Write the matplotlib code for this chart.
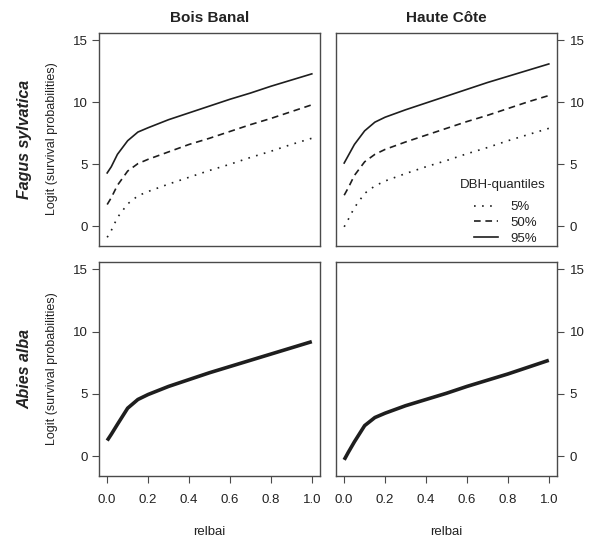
import matplotlib
matplotlib.use('Agg')
import matplotlib.pyplot as plt

plt.rcParams['font.family'] = ['Liberation Sans', 'DejaVu Sans']
plt.rcParams['lines.scale_dashes'] = False

# ---- data ----
sites = ['Bois Banal', 'Haute Côte']
species = ['Fagus sylvatica', 'Abies alba']
quantiles = ['5%', '50%', '95%']
legend_title = 'DBH-quantiles'
relbai = [0, 0.02, 0.05, 0.1, 0.15, 0.2, 0.3, 0.4, 0.5, 0.6, 0.7, 0.8, 0.9, 1.0]

fagus_bb_q05 = [-0.9, -0.35, 0.7, 1.8, 2.45, 2.8, 3.4, 3.95, 4.5, 5.0, 5.55, 6.05, 6.6, 7.1]
fagus_bb_q50 = [1.75, 2.3, 3.3, 4.45, 5.05, 5.4, 6.0, 6.6, 7.1, 7.65, 8.2, 8.7, 9.25, 9.8]
fagus_bb_q95 = [4.3, 4.8, 5.8, 6.9, 7.6, 7.95, 8.6, 9.15, 9.7, 10.25, 10.75, 11.3, 11.8, 12.3]

fagus_hc_q05 = [-0.05, 0.55, 1.5, 2.65, 3.25, 3.65, 4.25, 4.8, 5.3, 5.85, 6.35, 6.9, 7.4, 7.9]
fagus_hc_q50 = [2.5, 3.1, 4.1, 5.2, 5.8, 6.2, 6.8, 7.35, 7.9, 8.45, 8.95, 9.5, 10.05, 10.55]
fagus_hc_q95 = [5.1, 5.7, 6.6, 7.7, 8.4, 8.8, 9.4, 9.95, 10.5, 11.05, 11.6, 12.1, 12.6, 13.1]

abies_bb = [1.25, 1.75, 2.55, 3.85, 4.55, 4.95, 5.6, 6.15, 6.7, 7.2, 7.7, 8.2, 8.7, 9.2]
abies_hc = [-0.3, 0.3, 1.15, 2.45, 3.1, 3.45, 4.05, 4.55, 5.05, 5.6, 6.1, 6.6, 7.15, 7.7]

yticks = [0, 5, 10, 15]
xticks = [0.0, 0.2, 0.4, 0.6, 0.8, 1.0]
xticklabels = ['0.0', '0.2', '0.4', '0.6', '0.8', '1.0']

# ---- layout ----
W, H = 589, 540
fig = plt.figure(figsize=(W / 100, H / 100), dpi=100)


def rect(l, r, t, b):
    return [l / W, 1 - b / H, (r - l) / W, (b - t) / H]


ax_tl = fig.add_axes(rect(99, 320, 33, 246))
ax_tr = fig.add_axes(rect(336, 557, 33, 246))
ax_bl = fig.add_axes(rect(99, 320, 262, 476))
ax_br = fig.add_axes(rect(336, 557, 262, 476))

line_col = '#1e1e1e'
spine_col = '#4a4a4a'
txt_col = '#222222'
styles = [(0, (1.2, 4.6)), (0, (4.8, 3.4)), '-']

for ax, curves in [(ax_tl, [fagus_bb_q05, fagus_bb_q50, fagus_bb_q95]),
                   (ax_tr, [fagus_hc_q05, fagus_hc_q50, fagus_hc_q95])]:
    for q, yv, ls in zip(quantiles, curves, styles):
        ax.plot(relbai, yv, color=line_col, lw=1.2, linestyle=ls, label=q)

ax_bl.plot(relbai, abies_bb, color=line_col, lw=2.6, solid_capstyle='butt')
ax_br.plot(relbai, abies_hc, color=line_col, lw=2.6, solid_capstyle='butt')

for ax in [ax_tl, ax_tr, ax_bl, ax_br]:
    ax.set_xlim(-0.04, 1.04)
    ax.set_ylim(-1.6, 15.6)
    ax.set_yticks(yticks)
    ax.set_yticklabels([str(v) for v in yticks])
    for s in ax.spines.values():
        s.set_color(spine_col)
        s.set_linewidth(1.0)
    ax.tick_params(axis='both', length=5, width=0.8, color=spine_col,
                   labelsize=9.5, labelcolor=txt_col, pad=3)

for ax in [ax_tl, ax_tr]:
    ax.tick_params(axis='x', bottom=False, labelbottom=False)

for ax in [ax_bl, ax_br]:
    ax.set_xticks(xticks)
    ax.set_xticklabels(xticklabels)
    ax.tick_params(axis='x', pad=8)

for ax in [ax_tr, ax_br]:
    ax.yaxis.tick_right()
    ax.tick_params(axis='y', pad=4)

# legend
leg = ax_tr.legend(frameon=False, loc='lower right',
                   bbox_to_anchor=(0.952, -0.038), fontsize=9.5,
                   handlelength=1.8, handletextpad=0.95, labelspacing=0.27,
                   borderpad=0.2)
for t in leg.get_texts():
    t.set_color(txt_col)
fig.text(503 / W, 1 - 185 / H, legend_title, ha='center', va='center',
         fontsize=9.5, color=txt_col)

# titles
fig.text((99 + 320) / 2 / W, 1 - 18 / H, sites[0], ha='center', va='center',
         fontsize=11, fontweight='bold', color=txt_col)
fig.text((336 + 557) / 2 / W, 1 - 18 / H, sites[1], ha='center', va='center',
         fontsize=11, fontweight='bold', color=txt_col)

fig.text(25 / W, 1 - 139 / H, species[0], rotation=90, ha='center', va='center',
         fontsize=11.5, fontweight='bold', fontstyle='italic', color=txt_col)
fig.text(25 / W, 1 - 369 / H, species[1], rotation=90, ha='center', va='center',
         fontsize=11.5, fontweight='bold', fontstyle='italic', color=txt_col)

for yc in [139, 369]:
    fig.text(52 / W, 1 - yc / H, 'Logit (survival probabilities)', rotation=90,
             ha='center', va='center', fontsize=9, color=txt_col)

for xc in [(99 + 320) / 2, (336 + 557) / 2]:
    fig.text(xc / W, 1 - 532 / H, 'relbai', ha='center', va='center',
             fontsize=9.5, color=txt_col)

fig.savefig('out.png', dpi=100)
